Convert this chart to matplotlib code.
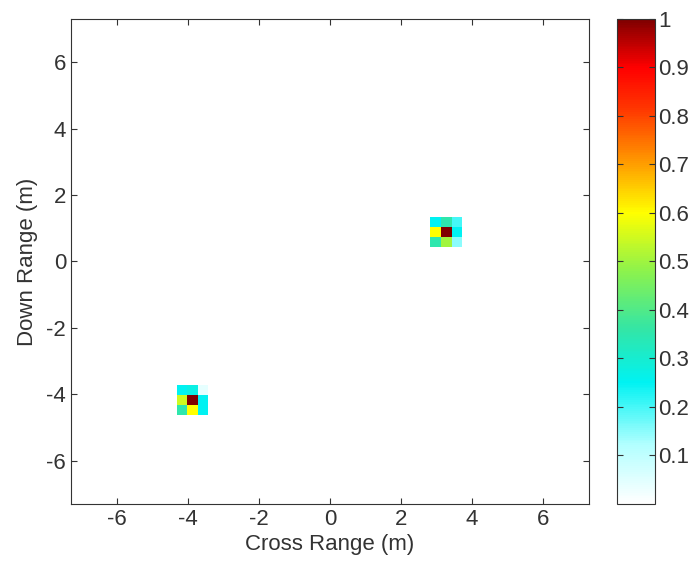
import numpy as np
import matplotlib.pyplot as plt
from matplotlib.colors import LinearSegmentedColormap

plt.rcParams['font.family'] = ['Liberation Sans', 'DejaVu Sans']
plt.rcParams['font.size'] = 16
plt.rcParams['axes.unicode_minus'] = False

# image grid (m)
n_cells = 49
x_edges = np.linspace(-7.3, 7.3, n_cells + 1)
y_edges = np.linspace(-7.3, 7.3, n_cells + 1)

# peak cell index (col, row) of each target and 3x3 normalised patch (rows top->bottom)
peak_1 = (35, 27)
patch_1 = [[0.25, 0.35, 0.20],
           [0.60, 1.00, 0.25],
           [0.35, 0.50, 0.15]]
peak_2 = (11, 10)
patch_2 = [[0.25, 0.27, 0.04],
           [0.55, 1.00, 0.25],
           [0.35, 0.60, 0.25]]

cb_ticks = [0.1, 0.2, 0.3, 0.4, 0.5, 0.6, 0.7, 0.8, 0.9, 1]

img = np.zeros((n_cells, n_cells))
for (ix, iy), p in [(peak_1, patch_1), (peak_2, patch_2)]:
    p = np.array(p)
    for r in range(3):
        for c in range(3):
            img[iy + 1 - r, ix - 1 + c] = p[r, c]

cmap = LinearSegmentedColormap.from_list('bscan', [
    (0.00, (1.0, 1.0, 1.0)),
    (0.12, (0.70, 1.0, 1.0)),
    (0.25, (0.0, 0.95, 0.95)),
    (0.36, (0.20, 0.90, 0.65)),
    (0.48, (0.55, 0.95, 0.30)),
    (0.60, (1.0, 1.0, 0.0)),
    (0.72, (1.0, 0.55, 0.0)),
    (0.82, (1.0, 0.20, 0.0)),
    (0.90, (1.0, 0.0, 0.0)),
    (1.00, (0.50, 0.0, 0.0)),
])

fig = plt.figure(figsize=(6.94, 5.65), dpi=100)
ax = fig.add_axes([0.1023, 0.108, 0.7464, 0.8584])
mesh = ax.pcolormesh(x_edges, y_edges, img, cmap=cmap, vmin=0, vmax=1)
ax.set_xlim(-7.3, 7.3)
ax.set_ylim(-7.3, 7.3)
ax.set_xticks([-6, -4, -2, 0, 2, 4, 6])
ax.set_yticks([-6, -4, -2, 0, 2, 4, 6])
ax.tick_params(direction='in', top=True, right=True, length=4, colors='#333333', labelcolor='#333333')
ax.set_xlabel('Cross Range (m)', color='#333333', labelpad=3)
ax.set_ylabel('Down Range (m)', color='#333333', labelpad=6)
for s in ax.spines.values():
    s.set_color('#333333')

cax = fig.add_axes([0.889, 0.108, 0.0548, 0.8584])
cb = fig.colorbar(mesh, cax=cax, ticks=cb_ticks)
cb.ax.set_yticklabels(['0.1', '0.2', '0.3', '0.4', '0.5', '0.6', '0.7', '0.8', '0.9', '1'])
cax.tick_params(direction='in', left=True, right=True, length=4, pad=2, colors='#333333', labelcolor='#333333')
cb.outline.set_edgecolor('#333333')

fig.savefig('out.png', dpi=100)
